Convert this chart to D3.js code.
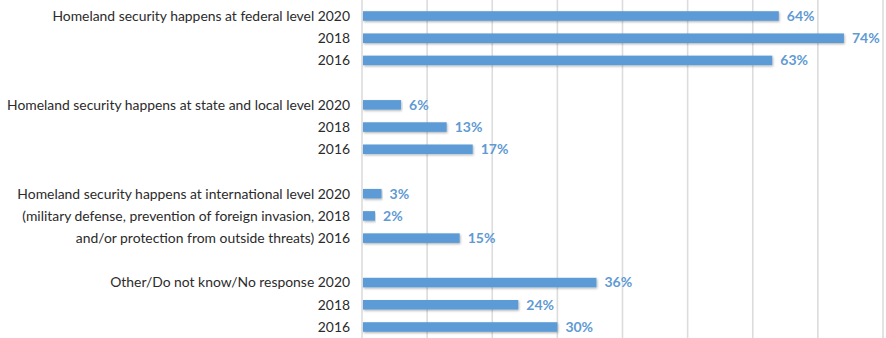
<!DOCTYPE html>
<html>
<head>
<meta charset="utf-8">
<script src="https://cdn.jsdelivr.net/npm/d3@7"></script>
<style>
    body { margin: 0; background: #fff; }
    svg { display: block; }
</style>
</head>
<body>
<svg id="chart" width="886" height="338"></svg>
<script>
// row labels, one per bar (group caption carries the first year)
let row_labels = [
    'Homeland security happens at federal level 2020', '2018', '2016',
    'Homeland security happens at state and local level 2020', '2018', '2016',
    'Homeland security happens at international level 2020',
    '(military defense, prevention of foreign invasion, 2018',
    'and/or protection from outside threats) 2016',
    'Other/Do not know/No response 2020', '2018', '2016'
];
let values = [64, 74, 63, 6, 13, 17, 3, 2, 15, 36, 24, 30];
let x_ticks = [0, 10, 20, 30, 40, 50, 60, 70, 80];

let width = 886;
let height = 338;

// slot index for each bar, leaving one empty slot between groups
let slots = values.map((d, i) => i + Math.floor(i / 3));
let n_slots = 15;

let x = d3.scaleLinear().domain([0, 80]).range([362, 883]);
let y = d3.scaleBand().domain(d3.range(n_slots)).range([5, 338]).paddingInner(0.57).paddingOuter(0.28);

const svg = d3.select('#chart');

// vertical gridlines
svg.append('g')
    .selectAll('line')
    .data(x_ticks)
    .join('line')
    .attr('x1', d => x(d))
    .attr('x2', d => x(d))
    .attr('y1', 0)
    .attr('y2', height)
    .attr('stroke', '#dcdcdc')
    .attr('stroke-width', 1.6);

const rows = values.map((v, i) => ({value: v, label: row_labels[i], slot: slots[i]}));

// soft shadow under bars
svg.append('defs').append('filter')
    .attr('id', 'shadow')
    .attr('x', '-5%').attr('y', '-50%').attr('width', '110%').attr('height', '200%')
    .append('feDropShadow')
    .attr('dx', 0.8).attr('dy', 1.2).attr('stdDeviation', 1.2)
    .attr('flood-color', '#000').attr('flood-opacity', 0.3);

svg.append('g')
    .selectAll('rect')
    .data(rows)
    .join('rect')
    .attr('x', x(0) + 1)
    .attr('y', d => y(d.slot))
    .attr('width', d => x(d.value) - x(0) - 1)
    .attr('height', y.bandwidth())
    .attr('fill', '#5b9bd5')
    .attr('filter', 'url(#shadow)');

// category labels
svg.append('g')
    .selectAll('text')
    .data(rows)
    .join('text')
    .attr('x', 350)
    .attr('y', d => y(d.slot) + y.bandwidth() / 2)
    .attr('dy', '0.35em')
    .attr('text-anchor', 'end')
    .attr('font-family', 'Lato, "Open Sans", sans-serif')
    .attr('font-size', 13.9)
    .attr('fill', '#2b2b2b')
    .text(d => d.label);

// value labels
svg.append('g')
    .selectAll('text')
    .data(rows)
    .join('text')
    .attr('x', d => x(d.value) + 8)
    .attr('y', d => y(d.slot) + y.bandwidth() / 2)
    .attr('dy', '0.35em')
    .attr('font-family', 'Lato, "Open Sans", sans-serif')
    .attr('font-size', 14)
    .attr('font-weight', 'bold')
    .attr('fill', '#5f9ad3')
    .text(d => d.value + '%');
</script>
</body>
</html>
